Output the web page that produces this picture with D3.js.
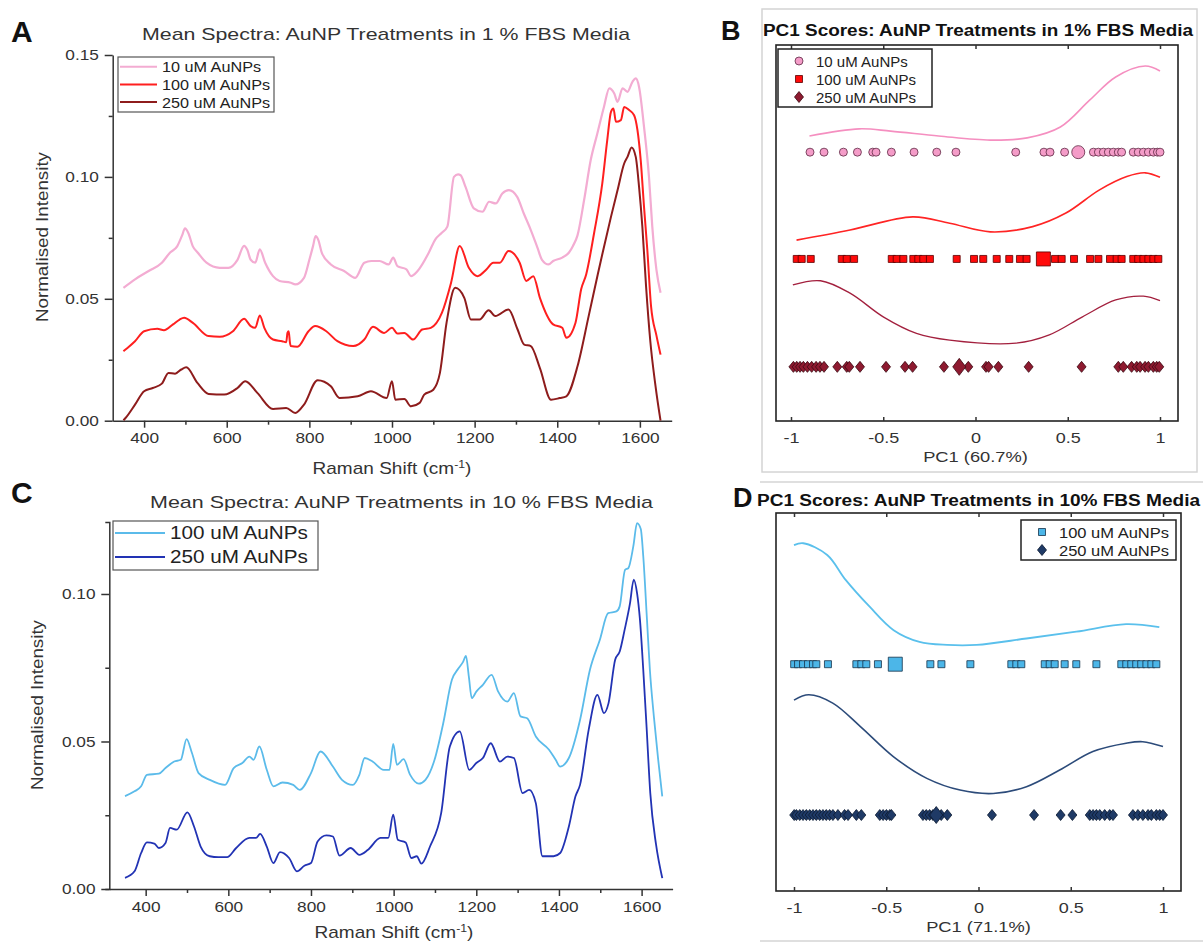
<!DOCTYPE html>
<html>
<head>
<meta charset="utf-8">
<script src="https://cdn.jsdelivr.net/npm/d3@7"></script>
<style>
  body { margin: 0; background: #fff; }
  svg { display: block; font-family: "Liberation Sans", Arial, sans-serif; }
</style>
</head>
<body>
<svg id="fig" width="1203" height="943"></svg>
<script>
// ---------- data ----------
var legendA = ["10 uM AuNPs", "100 uM AuNPs", "250 uM AuNPs"];
var legendC = ["100 uM AuNPs", "250 uM AuNPs"];
var spectraTicks = [400, 600, 800, 1000, 1200, 1400, 1600];
var spectraMinor = [500, 700, 900, 1100, 1300, 1500];
var yTicksA = [0, 0.05, 0.10, 0.15];
var yMinorA = [0.025, 0.075, 0.125];
var yTicksC = [0, 0.05, 0.10];
var yMinorC = [0.025, 0.075];
var pcTicks = [-1, -0.5, 0, 0.5, 1];

// panel A: mean spectra, 1 % FBS  [Raman shift, normalised intensity]
var specA10 = [[350,0.0545],[378,0.058],[411,0.0614],[443,0.0648],[463,0.0690],[480,0.0715],[492,0.0760],[499,0.0789],[507,0.0770],[518,0.0715],[530,0.0689],[551,0.0648],[583,0.0627],[604,0.0627],[626,0.066],[642,0.0717],[650,0.0700],[658,0.066],[669,0.0648],[680,0.0703],[693,0.0648],[712,0.0593],[728,0.0573],[755,0.0566],[766,0.0559],[787,0.0586],[800,0.066],[809,0.0717],[815,0.0757],[822,0.0740],[830,0.0689],[852,0.0641],[884,0.0614],[911,0.0586],[933,0.0648],[950,0.0655],[970,0.0655],[992,0.0641],[1003,0.0669],[1013,0.0634],[1035,0.0621],[1046,0.0593],[1062,0.0614],[1089,0.0689],[1105,0.0744],[1120,0.0770],[1134,0.0796],[1150,0.1000],[1160,0.1010],[1166,0.1007],[1178,0.0959],[1198,0.0871],[1219,0.0857],[1235,0.0898],[1251,0.0891],[1267,0.0932],[1283,0.0946],[1303,0.0918],[1319,0.0850],[1336,0.0782],[1352,0.0710],[1363,0.066],[1379,0.0641],[1390,0.0655],[1412,0.0669],[1428,0.0689],[1438,0.0717],[1449,0.0760],[1465,0.0905],[1481,0.1069],[1497,0.1178],[1513,0.1287],[1526,0.1363],[1538,0.1342],[1546,0.1308],[1558,0.1363],[1570,0.1349],[1582,0.1390],[1590,0.1404],[1598,0.1369],[1610,0.1205],[1622,0.1000],[1630,0.0796],[1640,0.062],[1650,0.0525]];
var specA100 = [[350,0.0285],[355,0.0292],[378,0.0326],[400,0.0367],[432,0.0377],[448,0.0371],[470,0.0395],[486,0.0415],[497,0.0422],[518,0.0401],[556,0.0347],[583,0.0344],[615,0.0367],[642,0.0418],[658,0.0388],[669,0.0381],[680,0.0432],[691,0.0381],[712,0.0333],[734,0.0326],[744,0.0322],[747,0.0360],[750,0.0367],[753,0.0320],[755,0.0306],[771,0.0303],[798,0.0367],[814,0.0388],[841,0.0367],[868,0.0326],[906,0.0306],[933,0.0333],[954,0.0385],[981,0.0360],[1000,0.0381],[1013,0.0358],[1030,0.0360],[1051,0.0333],[1073,0.0374],[1094,0.0381],[1121,0.0443],[1143,0.0566],[1164,0.0717],[1186,0.0627],[1207,0.0593],[1229,0.0621],[1245,0.0648],[1261,0.0648],[1282,0.0696],[1309,0.0648],[1325,0.0573],[1342,0.0593],[1358,0.0504],[1390,0.0395],[1412,0.0381],[1422,0.0340],[1444,0.0401],[1458,0.0540],[1470,0.0600],[1489,0.0768],[1509,0.0973],[1521,0.1151],[1530,0.1267],[1536,0.1281],[1542,0.1226],[1554,0.1233],[1562,0.1287],[1574,0.1274],[1586,0.1253],[1602,0.1069],[1610,0.0877],[1618,0.070],[1627,0.047],[1640,0.035],[1650,0.0271]];
var specA250 = [[350,0.0002],[355,0.0011],[378,0.0066],[400,0.0121],[421,0.0134],[443,0.0152],[459,0.0196],[475,0.0193],[490,0.0210],[502,0.0219],[529,0.0155],[556,0.011],[594,0.0107],[626,0.0134],[645,0.0162],[674,0.0114],[712,0.0048],[744,0.0052],[766,0.0032],[787,0.0066],[820,0.0166],[852,0.0141],[873,0.0093],[917,0.0100],[949,0.0121],[987,0.0093],[1000,0.0162],[1008,0.0086],[1030,0.0089],[1046,0.0059],[1067,0.0073],[1078,0.0107],[1100,0.0127],[1116,0.0196],[1132,0.0401],[1153,0.0545],[1175,0.0504],[1191,0.0415],[1212,0.0415],[1234,0.0453],[1250,0.0429],[1282,0.0456],[1304,0.0374],[1320,0.0312],[1336,0.0306],[1358,0.0216],[1385,0.0086],[1406,0.0093],[1422,0.0100],[1449,0.0223],[1476,0.0429],[1498,0.0600],[1510,0.0690],[1530,0.0836],[1546,0.0946],[1562,0.1055],[1570,0.1082],[1580,0.1121],[1590,0.1082],[1598,0.0959],[1606,0.0795],[1615,0.055],[1625,0.033],[1638,0.014],[1650,0.0]];

// panel C: mean spectra, 10 % FBS
var specC100 = [[350,0.0315],[373,0.0331],[389,0.0348],[403,0.0387],[432,0.0391],[448,0.0410],[469,0.0432],[485,0.0438],[499,0.0508],[512,0.0461],[528,0.0393],[555,0.0370],[592,0.0353],[613,0.0410],[634,0.0427],[651,0.0449],[661,0.0438],[675,0.0483],[693,0.0404],[709,0.0348],[731,0.0361],[757,0.0353],[773,0.0336],[800,0.0393],[823,0.0466],[853,0.0415],[875,0.0370],[901,0.0353],[917,0.0387],[930,0.0444],[949,0.0432],[976,0.0404],[990,0.0404],[999,0.0492],[1008,0.0421],[1024,0.0440],[1040,0.0387],[1061,0.0357],[1077,0.0370],[1099,0.0438],[1120,0.0562],[1141,0.0709],[1157,0.0748],[1168,0.0770],[1175,0.0790],[1182,0.0720],[1189,0.0647],[1200,0.0669],[1216,0.0692],[1237,0.0726],[1253,0.0669],[1275,0.0635],[1291,0.0664],[1307,0.0585],[1323,0.0579],[1344,0.0517],[1376,0.0472],[1392,0.0438],[1403,0.0415],[1424,0.0444],[1451,0.0573],[1475,0.0743],[1499,0.0845],[1519,0.0935],[1539,0.0941],[1547,0.0958],[1560,0.1082],[1568,0.1088],[1580,0.1162],[1589,0.1240],[1598,0.1220],[1604,0.1128],[1613,0.0913],[1620,0.0743],[1630,0.058],[1640,0.044],[1650,0.0314]];
var specC250 = [[350,0.0038],[373,0.0060],[389,0.0122],[403,0.0158],[421,0.0154],[432,0.0139],[448,0.0156],[459,0.0207],[475,0.0201],[501,0.0260],[517,0.0212],[533,0.0144],[555,0.0111],[576,0.0108],[597,0.0108],[619,0.0139],[651,0.0173],[667,0.0173],[677,0.0187],[693,0.0144],[709,0.0088],[725,0.0125],[747,0.0105],[766,0.0060],[784,0.0079],[800,0.0088],[816,0.0161],[837,0.0182],[853,0.0178],[869,0.0113],[896,0.0139],[917,0.0116],[938,0.0133],[968,0.0173],[987,0.0173],[999,0.0252],[1010,0.0167],[1029,0.0158],[1043,0.0105],[1056,0.0111],[1067,0.0086],[1088,0.0144],[1115,0.0257],[1136,0.0483],[1160,0.0534],[1183,0.0404],[1200,0.0427],[1216,0.0444],[1235,0.0494],[1257,0.0432],[1275,0.0449],[1291,0.0444],[1312,0.0325],[1328,0.0336],[1344,0.0291],[1360,0.0111],[1387,0.0111],[1403,0.0122],[1424,0.0212],[1440,0.0314],[1451,0.0353],[1472,0.0540],[1493,0.0658],[1509,0.0596],[1520,0.0630],[1536,0.0777],[1547,0.0805],[1559,0.0879],[1572,0.0969],[1581,0.1049],[1589,0.1003],[1596,0.0913],[1604,0.0743],[1612,0.055],[1621,0.0325],[1635,0.015],[1650,0.0037]];

// panel B: PC1 scores, 1 % FBS
var pcB10 = [-0.897,-0.821,-0.716,-0.640,-0.557,-0.539,-0.456,-0.333,-0.210,-0.106,0.218,0.371,0.404,0.483,0.639,0.666,0.693,0.720,0.747,0.774,0.792,0.855,0.882,0.910,0.937,0.964,0.986,1.0];
var pcB100 = [-0.969,-0.942,-0.893,-0.725,-0.698,-0.658,-0.454,-0.427,-0.391,-0.337,-0.310,-0.283,-0.247,-0.102,-0.008,0.042,0.115,0.183,0.241,0.277,0.431,0.467,0.534,0.621,0.666,0.729,0.765,0.792,0.855,0.882,0.910,0.937,0.964,0.991];
var pcB250 = [-0.987,-0.969,-0.951,-0.933,-0.911,-0.888,-0.864,-0.843,-0.821,-0.749,-0.698,-0.684,-0.626,-0.485,-0.382,-0.341,-0.171,-0.039,0.057,0.071,0.124,0.288,0.575,0.774,0.801,0.846,0.874,0.892,0.919,0.937,0.964,0.982,0.996];
var meanB = [0.557, 0.368, -0.088];
var rowB = [7.15, 4.31, 1.44];          // row offsets (0-10 units)
var kdeB10 = [[-0.9,7.58],[-0.63,7.77],[-0.46,7.71],[-0.2,7.58],[0.08,7.47],[0.28,7.53],[0.46,7.82],[0.62,8.54],[0.76,9.15],[0.92,9.44],[1.0,9.31]];
var kdeB100 = [[-0.97,4.81],[-0.68,5.08],[-0.34,5.43],[-0.14,5.26],[0.08,5.03],[0.31,5.17],[0.49,5.53],[0.67,6.14],[0.82,6.5],[0.92,6.6],[1.0,6.48]];
var kdeB250 = [[-0.99,3.62],[-0.84,3.73],[-0.68,3.40],[-0.5,2.77],[-0.32,2.33],[-0.14,2.15],[0.22,2.07],[0.40,2.29],[0.58,2.77],[0.76,3.22],[0.91,3.32],[1.0,3.20]];

// panel D: PC1 scores, 10 % FBS
var pcD100 = [-0.999,-0.978,-0.951,-0.924,-0.897,-0.879,-0.816,-0.662,-0.635,-0.608,-0.545,-0.261,-0.201,-0.044,0.178,0.205,0.232,0.359,0.386,0.413,0.467,0.530,0.639,0.774,0.801,0.828,0.855,0.882,0.910,0.937,0.964];
var pcD250 = [-0.999,-0.987,-0.969,-0.951,-0.933,-0.915,-0.897,-0.879,-0.861,-0.843,-0.825,-0.807,-0.789,-0.762,-0.726,-0.707,-0.662,-0.635,-0.535,-0.517,-0.499,-0.481,-0.472,-0.301,-0.283,-0.265,-0.247,-0.202,-0.169,0.073,0.301,0.445,0.509,0.603,0.621,0.639,0.657,0.684,0.711,0.729,0.837,0.864,0.891,0.919,0.937,0.964,0.982,1.0];
var meanD = [-0.451, -0.229];
var rowD = [6.0, 2.01];
var kdeD100 = [[-1.0,9.15],[-0.95,9.20],[-0.82,8.89],[-0.72,8.23],[-0.59,7.52],[-0.46,6.90],[-0.32,6.59],[-0.17,6.51],[-0.01,6.51],[0.26,6.68],[0.53,6.86],[0.80,7.06],[0.98,6.98]];
var kdeD250 = [[-1.0,5.05],[-0.92,5.19],[-0.79,4.97],[-0.64,4.35],[-0.46,3.55],[-0.28,2.98],[-0.10,2.67],[0.08,2.58],[0.26,2.76],[0.44,3.20],[0.62,3.69],[0.80,3.91],[0.89,3.95],[1.0,3.82]];

// ---------- drawing ----------
var svg = d3.select("#fig");

// text helper, sx stretches glyphs horizontally like the source figure
function txt(parent, x, y, str, o) {
  o = o || {};
  var tf = "translate(" + x + "," + y + ")";
  if (o.rot) tf += " rotate(" + o.rot + ")";
  if (o.sx) tf += " scale(" + o.sx + ",1)";
  var t = parent.append("text")
    .attr("transform", tf)
    .attr("text-anchor", o.anchor || "start")
    .style("font-size", (o.size || 15) + "px")
    .style("font-weight", o.bold ? "bold" : "normal")
    .attr("fill", o.fill || "#222")
    .text(str);
  if (o.len) t.attr("textLength", o.len).attr("lengthAdjust", "spacingAndGlyphs");
  return t;
}

function styleAxis(g, sx) {
  g.attr("font-family", null).attr("font-size", null);
  g.select(".domain").attr("stroke", "#333").attr("stroke-width", 1.5);
  g.selectAll(".tick line").attr("stroke", "#333").attr("stroke-width", 1.5);
  g.selectAll(".tick text").attr("fill", "#333").style("font-size", "15px")
    .attr("transform", "scale(" + sx + ",1)");
}

function drawSpectra(p) {
  var g = svg.append("g");
  var x = d3.scaleLinear().domain(p.xDomain).range(p.xRange);
  var y = d3.scaleLinear().domain(p.yDomain).range(p.yRange);

  var yAx = g.append("g").attr("transform", "translate(" + p.xRange[0] + ",0)")
    .call(d3.axisLeft(y).tickValues(p.yTicks).tickFormat(d3.format(".2f"))
      .tickSize(8).tickSizeOuter(p.outer).tickPadding(4));
  styleAxis(yAx, 1.15);
  var yMin = g.append("g").attr("transform", "translate(" + p.xRange[0] + ",0)")
    .call(d3.axisLeft(y).tickValues(p.yMinor).tickFormat("").tickSize(4));
  styleAxis(yMin, 1);
  yMin.select(".domain").remove();

  var xAx = g.append("g").attr("transform", "translate(0," + p.yRange[0] + ")")
    .call(d3.axisBottom(x).tickValues(spectraTicks).tickFormat(d3.format("d"))
      .tickSize(7).tickSizeOuter(0).tickPadding(5));
  styleAxis(xAx, 1.15);
  var xMin = g.append("g").attr("transform", "translate(0," + p.yRange[0] + ")")
    .call(d3.axisBottom(x).tickValues(spectraMinor).tickFormat("").tickSize(4));
  styleAxis(xMin, 1);
  xMin.select(".domain").remove();

  var line = d3.line().x(d => x(d[0])).y(d => y(d[1])).curve(d3.curveMonotoneX);
  p.series.forEach(function (s) {
    g.append("path").datum(s.values).attr("d", line)
      .attr("fill", "none").attr("stroke", s.color).attr("stroke-width", s.width)
      .attr("stroke-linejoin", "round");
  });

  // legend
  var L = p.legend;
  g.append("rect").attr("x", L.x).attr("y", L.y).attr("width", L.w).attr("height", L.h)
    .attr("fill", "#fff").attr("stroke", "#555").attr("stroke-width", 1.2);
  p.series.forEach(function (s, i) {
    var ly = L.y + L.first + i * L.step;
    g.append("line").attr("x1", L.x + 2).attr("x2", L.x + L.lineLen).attr("y1", ly).attr("y2", ly)
      .attr("stroke", s.color).attr("stroke-width", 2);
    txt(g, L.x + L.lineLen + 5, ly + L.size * 0.36, s.name, { size: L.size, sx: L.sx });
  });

  txt(g, p.title[0], p.title[1], p.titleText, { size: 17, len: p.title[2], fill: "#333" });
  txt(g, p.ylab[0], p.ylab[1], "Normalised Intensity", { size: 17, rot: -90, anchor: "middle", len: 170, fill: "#333" });
  var xl = txt(g, p.xlab[0], p.xlab[1], "Raman Shift (cm", { size: 17, anchor: "middle", sx: 1.12, fill: "#333" });
  xl.append("tspan").attr("dy", -6).style("font-size", "11px").text("-1");
  xl.append("tspan").attr("dy", 6).text(")");
}

function markerPath(type, big) {
  if (type === "circle") { var r = big ? 6.5 : 4; return d3.symbol(d3.symbolCircle, Math.PI * r * r)(); }
  if (type === "square") { var s = big ? 14 : 7; return d3.symbol(d3.symbolSquare, s * s)(); }
  var w = big ? 6.5 : 4.5, h = big ? 8.5 : 5.5;
  return "M0," + (-h) + "L" + w + ",0L0," + h + "L" + (-w) + ",0Z";
}

function drawScores(p) {
  var g = svg.append("g");
  var x = d3.scaleLinear().domain([-1, 1]).range(p.xRange);
  var y = d3.scaleLinear().domain([0, 10]).range(p.yRange);

  g.append("rect").attr("x", p.frame[0]).attr("y", p.yRange[1])
    .attr("width", p.frame[1] - p.frame[0]).attr("height", p.yRange[0] - p.yRange[1])
    .attr("fill", "none").attr("stroke", "#222").attr("stroke-width", 1.6);

  var xAx = g.append("g").attr("transform", "translate(0," + p.yRange[0] + ")")
    .call(d3.axisBottom(x).tickValues(pcTicks).tickFormat(d => String(d))
      .tickSizeInner(-4).tickSizeOuter(0).tickPadding(11));
  styleAxis(xAx, 1.2);
  xAx.select(".domain").remove();
  var topAx = g.append("g").attr("transform", "translate(0," + p.yRange[1] + ")")
    .call(d3.axisTop(x).tickValues(pcTicks).tickFormat("").tickSizeInner(-4).tickSizeOuter(0));
  styleAxis(topAx, 1);
  topAx.select(".domain").remove();

  var curve = d3.line().x(d => x(d[0])).y(d => y(d[1])).curve(d3.curveCatmullRom);
  p.groups.forEach(function (grp) {
    g.append("path").datum(grp.kde).attr("d", curve).attr("fill", "none")
      .attr("stroke", grp.line).attr("stroke-width", grp.lw);
  });
  p.groups.forEach(function (grp) {
    var pts = grp.scores.map(v => ({ v: v, big: false })).concat([{ v: grp.mean, big: true }]);
    g.selectAll(null).data(pts).enter().append("path")
      .attr("d", d => markerPath(grp.shape, d.big))
      .attr("transform", d => "translate(" + x(d.v) + "," + y(grp.row) + ")")
      .attr("fill", grp.fill).attr("stroke", grp.stroke).attr("stroke-width", 0.8);
  });

  // legend
  var L = p.legend;
  g.append("rect").attr("x", L.x).attr("y", L.y).attr("width", L.w).attr("height", L.h)
    .attr("fill", "#fff").attr("stroke", "#222").attr("stroke-width", 1.5);
  p.groups.forEach(function (grp, i) {
    var ly = L.y + L.first + i * L.step;
    g.append("path").attr("d", markerPath(grp.shape, false))
      .attr("transform", "translate(" + (L.x + 21) + "," + ly + ")")
      .attr("fill", grp.fill).attr("stroke", grp.stroke).attr("stroke-width", 0.8);
    txt(g, L.x + 38, ly + 5.5, grp.name, { size: 15, sx: L.sx });
  });

  txt(g, p.title[0], p.title[1], p.titleText, { size: 16, bold: true, len: p.title[2], fill: "#111" });
  txt(g, (p.xRange[0] + p.xRange[1]) / 2, p.xlabY, p.xlab, { size: 15, anchor: "middle", sx: 1.22, fill: "#333" });
}

// panel frames (light grey boxes round B and D)
svg.append("rect").attr("x", 762).attr("y", 9).attr("width", 435).attr("height", 463)
  .attr("fill", "none").attr("stroke", "#d4d4d4").attr("stroke-width", 1.5);
svg.append("line").attr("x1", 760).attr("x2", 1203).attr("y1", 482).attr("y2", 482)
  .attr("stroke", "#d4d4d4").attr("stroke-width", 1.5);
svg.append("line").attr("x1", 760).attr("x2", 1203).attr("y1", 941).attr("y2", 941)
  .attr("stroke", "#d4d4d4").attr("stroke-width", 1.5);

drawSpectra({
  xDomain: [324, 1677], xRange: [112.7, 671.7],
  yDomain: [0, 0.15], yRange: [420.7, 55],
  yTicks: yTicksA, yMinor: yMinorA, outer: 0,
  series: [
    { name: legendA[0], values: specA10, color: "#f3acd2", width: 2.2 },
    { name: legendA[1], values: specA100, color: "#ff1f1f", width: 2 },
    { name: legendA[2], values: specA250, color: "#8e1c1c", width: 2 }
  ],
  legend: { x: 118, y: 57, w: 156, h: 55, first: 9.7, step: 17.7, lineLen: 39, size: 15, sx: 1.08 },
  titleText: "Mean Spectra: AuNP Treatments in 1 % FBS Media", title: [142, 40, 488],
  ylab: [48, 237], xlab: [392, 474]
});

drawSpectra({
  xDomain: [312, 1675], xRange: [109.3, 672.6],
  yDomain: [0, 0.1244], yRange: [889, 522],
  yTicks: yTicksC, yMinor: yMinorC, outer: 4,
  series: [
    { name: legendC[0], values: specC100, color: "#5bbbea", width: 1.8 },
    { name: legendC[1], values: specC250, color: "#2233b4", width: 1.8 }
  ],
  legend: { x: 113, y: 521, w: 205, h: 49, first: 12, step: 24, lineLen: 52, size: 18, sx: 1.15 },
  titleText: "Mean Spectra: AuNP Treatments in 10 % FBS Media", title: [150, 508, 503],
  ylab: [43, 705], xlab: [394, 938]
});

drawScores({
  xRange: [791, 1160], frame: [776, 1178], yRange: [421, 45],
  groups: [
    { name: legendA[0], scores: pcB10, mean: meanB[0], row: rowB[0], kde: kdeB10, shape: "circle", fill: "#f49cc8", stroke: "#5e2a44", line: "#f58fc0", lw: 1.6 },
    { name: legendA[1], scores: pcB100, mean: meanB[1], row: rowB[1], kde: kdeB100, shape: "square", fill: "#ff0a0a", stroke: "#5a0000", line: "#ff2424", lw: 1.6 },
    { name: legendA[2], scores: pcB250, mean: meanB[2], row: rowB[2], kde: kdeB250, shape: "diamond", fill: "#8e1a30", stroke: "#3a0810", line: "#a3203e", lw: 1.3 }
  ],
  legend: { x: 778, y: 49, w: 154, h: 58, first: 12, step: 18, sx: 1.0 },
  titleText: "PC1 Scores: AuNP Treatments in 1% FBS Media", title: [763, 36, 430],
  xlab: "PC1 (60.7%)", xlabY: 462
});

drawScores({
  xRange: [794, 1163], frame: [776, 1181], yRange: [891, 513],
  groups: [
    { name: legendC[0], scores: pcD100, mean: meanD[0], row: rowD[0], kde: kdeD100, shape: "square", fill: "#4cb6e8", stroke: "#15324a", line: "#5ac0ec", lw: 1.8 },
    { name: legendC[1], scores: pcD250, mean: meanD[1], row: rowD[1], kde: kdeD250, shape: "diamond", fill: "#1f3a66", stroke: "#0b1930", line: "#2c4b7a", lw: 1.6 }
  ],
  legend: { x: 1021, y: 520, w: 155, h: 40, first: 12, step: 18, sx: 1.1 },
  titleText: "PC1 Scores: AuNP Treatments in 10% FBS Media", title: [757, 506, 443],
  xlab: "PC1 (71.1%)", xlabY: 932
});

// panel letters
txt(svg, 11, 42, "A", { size: 30, bold: true, fill: "#111" });
txt(svg, 721, 40, "B", { size: 27, bold: true, fill: "#111" });
txt(svg, 11, 503, "C", { size: 30, bold: true, fill: "#111" });
txt(svg, 733, 507, "D", { size: 27, bold: true, fill: "#111" });
</script>
</body>
</html>
